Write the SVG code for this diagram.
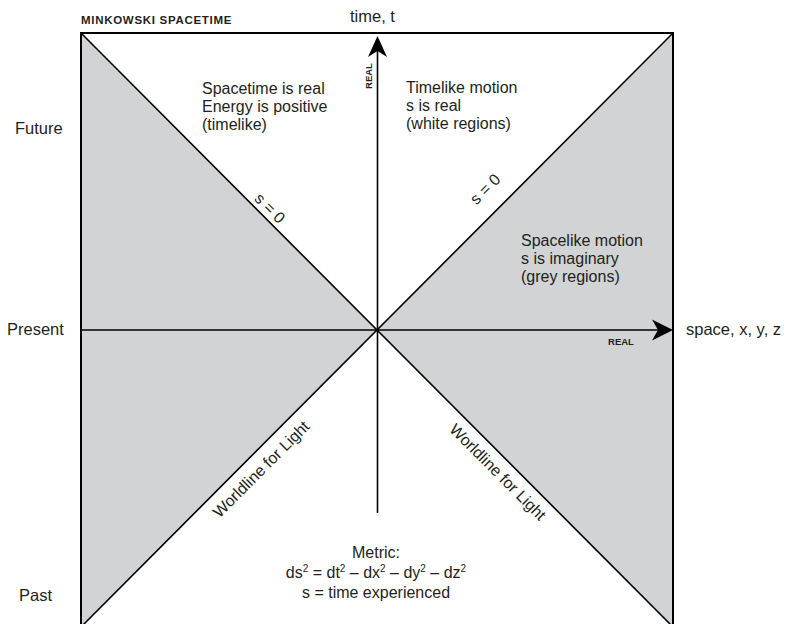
<svg xmlns="http://www.w3.org/2000/svg" width="788" height="624" viewBox="0 0 788 624">
<defs>
<style>
.t{font-family:"Liberation Sans",Arial,sans-serif;font-size:16px;fill:#231f20}
.s{font-size:16.5px}
.b{font-family:"Liberation Sans",Arial,sans-serif;font-weight:bold;fill:#231f20}
.ln{stroke:#000;stroke-width:1.6;fill:none}
.grey{fill:#d1d3d5}
</style>
</defs>
<rect x="0" y="0" width="788" height="624" fill="#fff"/>
<g id="regions">
<polygon class="grey" points="81,33 377,330 81,627"/>
<polygon class="grey" points="673,33 377,330 673,627"/>
</g>
<g id="frame">
<rect x="81" y="33" width="592" height="594" fill="none" stroke="#000" stroke-width="2"/>
</g>
<g id="connectors">
<line class="ln" x1="81" y1="33" x2="673" y2="627"/>
<line class="ln" x1="673" y1="33" x2="81" y2="627"/>
<line class="ln" x1="377.5" y1="513" x2="377.5" y2="45"/>
<line class="ln" x1="81" y1="330" x2="662" y2="330"/>
<path d="M377.5,36 L387,57 L377.5,51 L368,57 Z" fill="#000"/>
<path d="M673,330 L652,319.5 L658,330 L652,340.5 Z" fill="#000"/>
</g>
<g id="title"><text class="b" x="81" y="24" font-size="11.5" letter-spacing="0.7">MINKOWSKI SPACETIME</text></g>
<g id="time-axis">
<text class="t s" x="350" y="22">time, t</text>
<text class="b" font-size="9.5" transform="translate(372,76) rotate(-90)" text-anchor="middle">REAL</text>
</g>
<g id="space-axis">
<text class="t s" x="686" y="335">space, x, y, z</text>
<text class="b" font-size="9.5" x="621" y="345" text-anchor="middle">REAL</text>
</g>
<g id="future"><text class="t s" x="15" y="134">Future</text></g>
<g id="present"><text class="t s" x="7" y="335">Present</text></g>
<g id="past"><text class="t s" x="19" y="601">Past</text></g>
<g id="future-left">
<text class="t" x="202" y="94"><tspan x="202">Spacetime is real</tspan><tspan x="202" dy="18">Energy is positive</tspan><tspan x="202" dy="18">(timelike)</tspan></text>
</g>
<g id="future-right">
<text class="t" x="406" y="93"><tspan x="406">Timelike motion</tspan><tspan x="406" dy="18">s is real</tspan><tspan x="406" dy="18">(white regions)</tspan></text>
</g>
<g id="spacelike">
<text class="t" x="521" y="246"><tspan x="521">Spacelike motion</tspan><tspan x="521" dy="18">s is imaginary</tspan><tspan x="521" dy="18">(grey regions)</tspan></text>
</g>
<g id="s0-left"><text class="t" transform="translate(266,212) rotate(45)" text-anchor="middle">s = 0</text></g>
<g id="s0-right"><text class="t" transform="translate(489,193) rotate(-45)" text-anchor="middle">s = 0</text></g>
<g id="worldline-left"><text class="t" transform="translate(265,473) rotate(-45)" text-anchor="middle">Worldline for Light</text></g>
<g id="worldline-right"><text class="t" transform="translate(494,476) rotate(45)" text-anchor="middle">Worldline for Light</text></g>
<g id="metric">
<text class="t" x="376" y="558" text-anchor="middle"><tspan x="376">Metric:</tspan><tspan x="376" dy="20">ds</tspan><tspan font-size="10" dy="-6">2</tspan><tspan dy="6"> = dt</tspan><tspan font-size="10" dy="-6">2</tspan><tspan dy="6"> – dx</tspan><tspan font-size="10" dy="-6">2</tspan><tspan dy="6"> – dy</tspan><tspan font-size="10" dy="-6">2</tspan><tspan dy="6"> – dz</tspan><tspan font-size="10" dy="-6">2</tspan><tspan x="376" dy="26">s = time experienced</tspan></text>
</g>
</svg>
